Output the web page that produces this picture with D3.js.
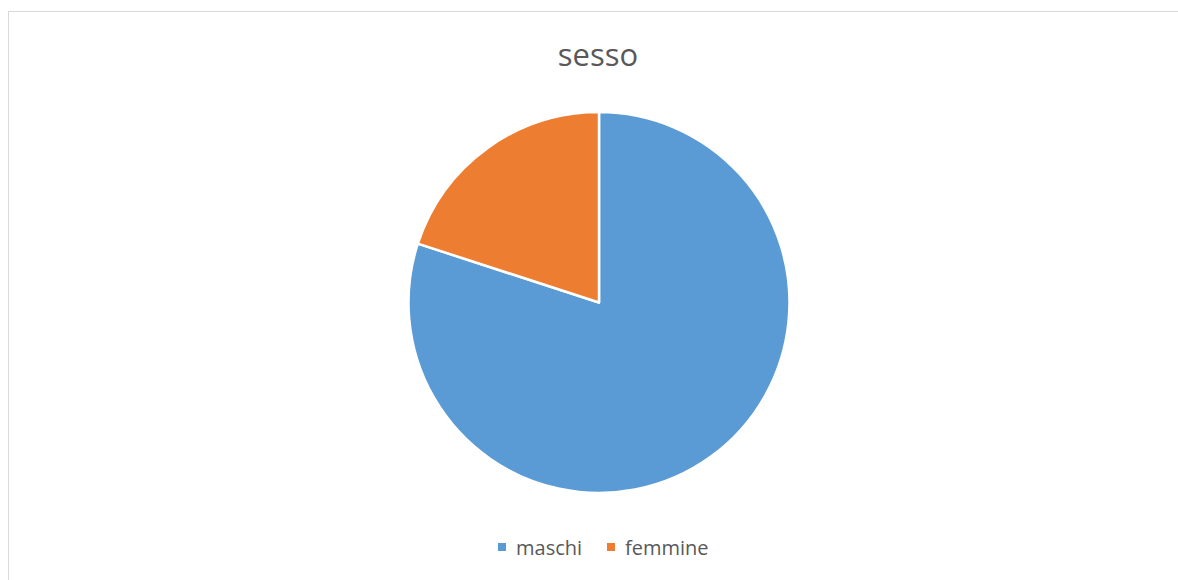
<!DOCTYPE html>
<html>
<head>
<meta charset="utf-8">
<script src="https://cdn.jsdelivr.net/npm/d3@7"></script>
<style>
  html, body { margin: 0; padding: 0; background: #fff; }
  svg { display: block; }
</style>
</head>
<body>
<script>
// Data
const categories = ["maschi", "femmine"];
const values = [80, 20];
const colors = ["#5B9BD5", "#ED7D31"];

const width = 1178;
const height = 580;

const svg = d3.select("body").append("svg")
  .attr("width", width)
  .attr("height", height)
  .style("font-family", "'Open Sans', Calibri, sans-serif");

// chart area border (only top and left visible)
svg.append("rect")
  .attr("x", 8.5)
  .attr("y", 11.5)
  .attr("width", width + 20)
  .attr("height", height + 20)
  .attr("fill", "none")
  .attr("stroke", "#d9d9d9")
  .attr("stroke-width", 1);

// title
svg.append("text")
  .attr("x", 598)
  .attr("y", 66)
  .attr("text-anchor", "middle")
  .attr("fill", "#595959")
  .style("font-size", "31px")
  .text("sesso");

// pie
const cx = 599, cy = 302.5, r = 190.5;
const pie = d3.pie().sort(null).value((d) => d.value);
const arc = d3.arc().innerRadius(0).outerRadius(r);
const data = categories.map((c, i) => ({ name: c, value: values[i], color: colors[i] }));

const g = svg.append("g").attr("transform", `translate(${cx},${cy})`);
g.selectAll("path")
  .data(pie(data))
  .join("path")
  .attr("d", arc)
  .attr("fill", (d) => d.data.color)
  .attr("stroke", "#fff")
  .attr("stroke-width", 2.5)
  .attr("stroke-linejoin", "round");

// legend
const legendItems = [
  { x: 498, text: categories[0], color: colors[0] },
  { x: 607, text: categories[1], color: colors[1] }
];
const legend = svg.append("g");
legendItems.forEach((it) => {
  legend.append("rect")
    .attr("x", it.x)
    .attr("y", 543)
    .attr("width", 8)
    .attr("height", 8)
    .attr("fill", it.color);
  legend.append("text")
    .attr("x", it.x + 18)
    .attr("y", 554.5)
    .attr("fill", "#595959")
    .style("font-size", "20px")
    .text(it.text);
});
</script>
</body>
</html>
